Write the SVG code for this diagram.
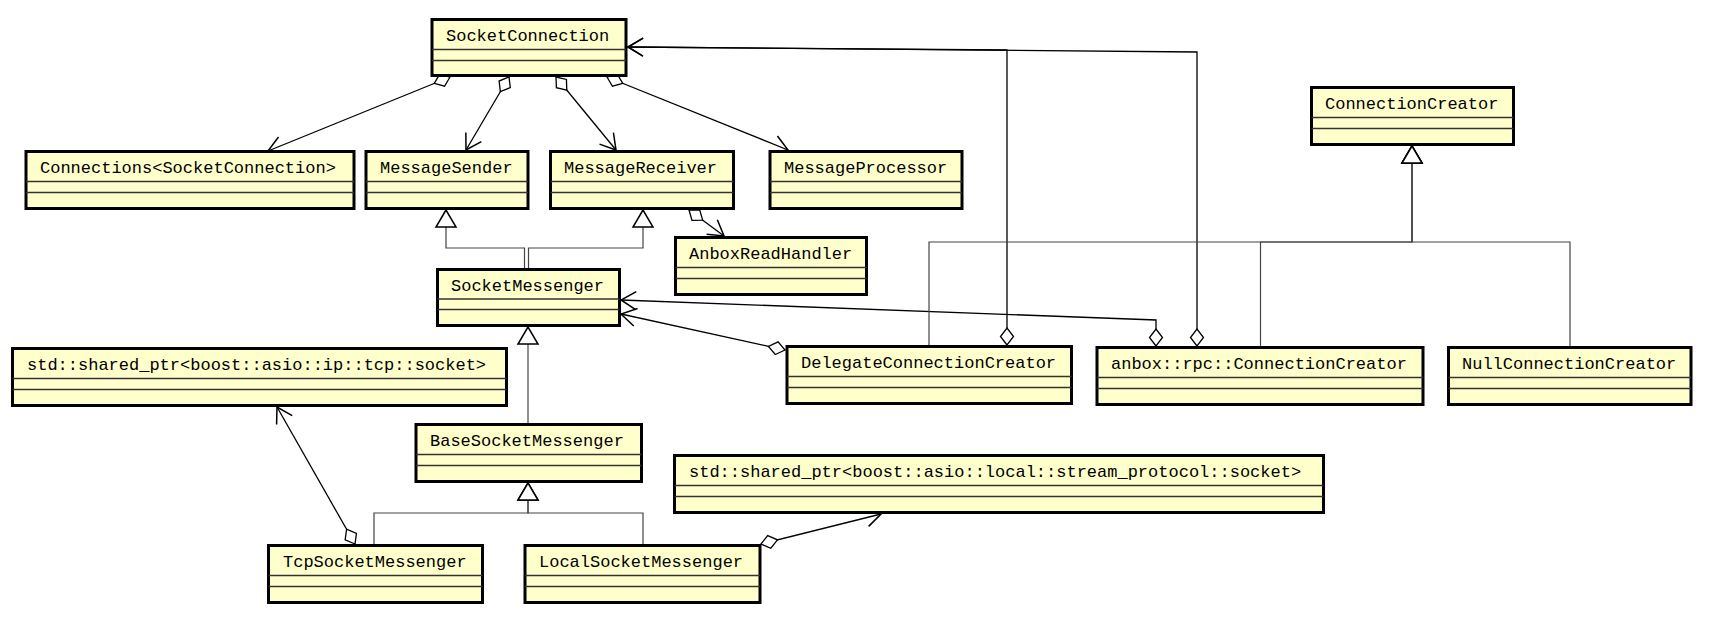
<svg xmlns="http://www.w3.org/2000/svg" width="1710" height="618" viewBox="0 0 1710 618">
<style>
.box{fill:#ffffcc;stroke:#000;stroke-width:3}
.sep{stroke:#333;stroke-width:1.5}
.lbl{font-family:"Liberation Mono",monospace;font-size:17px;fill:#000}
.assoc{fill:none;stroke:#000;stroke-width:1.3}
.gen{fill:none;stroke:#444;stroke-width:1.2}
</style>
<defs>
<marker id="dia" markerUnits="userSpaceOnUse" markerWidth="20" markerHeight="16" viewBox="-1 -8 19 16" refX="0" refY="0" orient="auto">
<path d="M0,0 L8.5,-6.5 L17,0 L8.5,6.5 Z" fill="#fff" stroke="#000" stroke-width="1.3"/>
</marker>
<marker id="arr" markerUnits="userSpaceOnUse" markerWidth="20" markerHeight="22" viewBox="-17 -11 19 22" refX="0" refY="0" orient="auto">
<path d="M-15,-9 L0,0 L-15,9" fill="none" stroke="#000" stroke-width="1.5"/>
</marker>
<marker id="tri" markerUnits="userSpaceOnUse" markerWidth="22" markerHeight="24" viewBox="-19 -12 21 24" refX="0" refY="0" orient="auto">
<path d="M0,0 L-17,-10 L-17,10 Z" fill="#fff" stroke="#000" stroke-width="1.5"/>
</marker>
</defs>

<g id="connectors">
<path class="assoc" d="M450,77 L268,151" marker-start="url(#dia)" marker-end="url(#arr)"/>
<path class="assoc" d="M509,77 L466,150" marker-start="url(#dia)" marker-end="url(#arr)"/>
<path class="assoc" d="M556,77 L616,150" marker-start="url(#dia)" marker-end="url(#arr)"/>
<path class="assoc" d="M607,77 L788,150" marker-start="url(#dia)" marker-end="url(#arr)"/>
<path class="assoc" d="M689,210 L724,236" marker-start="url(#dia)" marker-end="url(#arr)"/>
<path class="gen" d="M524.5,268 L524.5,248 L446,248 L446,210" marker-end="url(#tri)"/>
<path class="gen" d="M528.5,268 L528.5,248 L643,248 L643,210" marker-end="url(#tri)"/>
<path class="gen" d="M528,423 L528,327" marker-end="url(#tri)"/>
<path class="gen" d="M374,544 L374,513 L528,513 L528,483" marker-end="url(#tri)"/>
<path class="gen" d="M643,544 L643,513 L528,513 L528,483" marker-end="url(#tri)"/>
<path class="assoc" d="M355,544 L277,407" marker-start="url(#dia)" marker-end="url(#arr)"/>
<path class="assoc" d="M761,544 L881,514" marker-start="url(#dia)" marker-end="url(#arr)"/>
<path class="assoc" d="M785,350 L621,314" marker-start="url(#dia)" marker-end="url(#arr)"/>
<path class="assoc" d="M1156,346 L1156,320 L621,300" marker-start="url(#dia)" marker-end="url(#arr)"/>
<path class="assoc" d="M1007,345 L1007,50 L628,47" marker-start="url(#dia)" marker-end="url(#arr)"/>
<path class="assoc" d="M1197,346 L1197,52 L628,47" marker-start="url(#dia)" marker-end="url(#arr)"/>
<path class="gen" d="M929,345 L929,242 L1412,242 L1412,146" marker-end="url(#tri)"/>
<path class="gen" d="M1260.5,346 L1260.5,242 L1412,242 L1412,146" marker-end="url(#tri)"/>
<path class="gen" d="M1570,346 L1570,242 L1412,242 L1412,146" marker-end="url(#tri)"/>
</g>

<g id="SocketConnection">
<rect class="box" x="432" y="19.5" width="194" height="56"/>
<line class="sep" x1="432" y1="49.5" x2="626" y2="49.5"/><line class="sep" x1="432" y1="60.5" x2="626" y2="60.5"/>
<text class="lbl" x="446" y="40.5">SocketConnection</text>
</g>
<g id="Connections">
<rect class="box" x="26" y="151.5" width="328" height="57"/>
<line class="sep" x1="26" y1="181.5" x2="354" y2="181.5"/><line class="sep" x1="26" y1="192.5" x2="354" y2="192.5"/>
<text class="lbl" x="40" y="172.5">Connections&lt;SocketConnection&gt;</text>
</g>
<g id="MessageSender">
<rect class="box" x="366" y="151.5" width="162" height="57"/>
<line class="sep" x1="366" y1="181.5" x2="528" y2="181.5"/><line class="sep" x1="366" y1="192.5" x2="528" y2="192.5"/>
<text class="lbl" x="380" y="172.5">MessageSender</text>
</g>
<g id="MessageReceiver">
<rect class="box" x="550.5" y="151.5" width="183" height="57"/>
<line class="sep" x1="550.5" y1="181.5" x2="733.5" y2="181.5"/><line class="sep" x1="550.5" y1="192.5" x2="733.5" y2="192.5"/>
<text class="lbl" x="564" y="172.5">MessageReceiver</text>
</g>
<g id="MessageProcessor">
<rect class="box" x="770" y="151.5" width="192" height="57"/>
<line class="sep" x1="770" y1="181.5" x2="962" y2="181.5"/><line class="sep" x1="770" y1="192.5" x2="962" y2="192.5"/>
<text class="lbl" x="784" y="172.5">MessageProcessor</text>
</g>
<g id="ConnectionCreator">
<rect class="box" x="1311.5" y="87.5" width="202" height="57"/>
<line class="sep" x1="1311.5" y1="117.5" x2="1513.5" y2="117.5"/><line class="sep" x1="1311.5" y1="128.5" x2="1513.5" y2="128.5"/>
<text class="lbl" x="1325" y="108.5">ConnectionCreator</text>
</g>
<g id="SocketMessenger">
<rect class="box" x="437.5" y="269.5" width="182" height="56"/>
<line class="sep" x1="437.5" y1="299" x2="619.5" y2="299"/><line class="sep" x1="437.5" y1="309.5" x2="619.5" y2="309.5"/>
<text class="lbl" x="451" y="290.5">SocketMessenger</text>
</g>
<g id="AnboxReadHandler">
<rect class="box" x="675.5" y="237.5" width="191" height="57"/>
<line class="sep" x1="675.5" y1="267.5" x2="866.5" y2="267.5"/><line class="sep" x1="675.5" y1="278.5" x2="866.5" y2="278.5"/>
<text class="lbl" x="689" y="258.5">AnboxReadHandler</text>
</g>
<g id="TcpSocketPtr">
<rect class="box" x="12.5" y="348.5" width="494" height="57"/>
<line class="sep" x1="12.5" y1="378.5" x2="506.5" y2="378.5"/><line class="sep" x1="12.5" y1="389.5" x2="506.5" y2="389.5"/>
<text class="lbl" x="27" y="369.5">std::shared_ptr&lt;boost::asio::ip::tcp::socket&gt;</text>
</g>
<g id="DelegateConnectionCreator">
<rect class="box" x="787" y="346.5" width="284.5" height="57"/>
<line class="sep" x1="787" y1="376.5" x2="1071.5" y2="376.5"/><line class="sep" x1="787" y1="387.5" x2="1071.5" y2="387.5"/>
<text class="lbl" x="801" y="367.5">DelegateConnectionCreator</text>
</g>
<g id="RpcConnectionCreator">
<rect class="box" x="1097" y="347.5" width="326" height="57"/>
<line class="sep" x1="1097" y1="377.5" x2="1423" y2="377.5"/><line class="sep" x1="1097" y1="388.5" x2="1423" y2="388.5"/>
<text class="lbl" x="1111" y="368.5">anbox::rpc::ConnectionCreator</text>
</g>
<g id="NullConnectionCreator">
<rect class="box" x="1448.5" y="347.5" width="242.5" height="57"/>
<line class="sep" x1="1448.5" y1="377.5" x2="1691" y2="377.5"/><line class="sep" x1="1448.5" y1="388.5" x2="1691" y2="388.5"/>
<text class="lbl" x="1462" y="368.5">NullConnectionCreator</text>
</g>
<g id="BaseSocketMessenger">
<rect class="box" x="416" y="424.5" width="225.5" height="57"/>
<line class="sep" x1="416" y1="454.5" x2="641.5" y2="454.5"/><line class="sep" x1="416" y1="465.5" x2="641.5" y2="465.5"/>
<text class="lbl" x="430" y="445.5">BaseSocketMessenger</text>
</g>
<g id="LocalSocketPtr">
<rect class="box" x="674.5" y="455.5" width="649" height="57"/>
<line class="sep" x1="674.5" y1="485.5" x2="1323.5" y2="485.5"/><line class="sep" x1="674.5" y1="496.5" x2="1323.5" y2="496.5"/>
<text class="lbl" x="689" y="476.5">std::shared_ptr&lt;boost::asio::local::stream_protocol::socket&gt;</text>
</g>
<g id="TcpSocketMessenger">
<rect class="box" x="268.5" y="545.5" width="214" height="57"/>
<line class="sep" x1="268.5" y1="575.5" x2="482.5" y2="575.5"/><line class="sep" x1="268.5" y1="586.5" x2="482.5" y2="586.5"/>
<text class="lbl" x="283" y="566.5">TcpSocketMessenger</text>
</g>
<g id="LocalSocketMessenger">
<rect class="box" x="525" y="545.5" width="235" height="57"/>
<line class="sep" x1="525" y1="575.5" x2="760" y2="575.5"/><line class="sep" x1="525" y1="586.5" x2="760" y2="586.5"/>
<text class="lbl" x="539" y="566.5">LocalSocketMessenger</text>
</g>
</svg>
